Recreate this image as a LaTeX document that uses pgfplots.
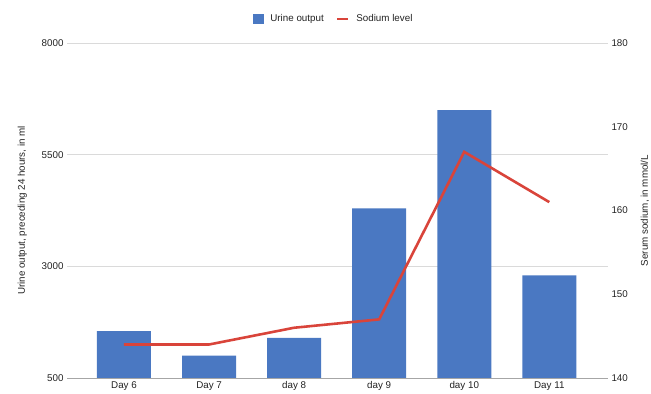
\documentclass[border=0pt]{standalone}
\usepackage{fontspec}
\setmainfont{Liberation Sans}
\usepackage{pgfplots}
\pgfplotsset{compat=1.18}
\definecolor{barblue}{HTML}{4A78C2}
\definecolor{linered}{HTML}{D9443A}
\definecolor{gridgray}{HTML}{DADADA}
\definecolor{txtgray}{HTML}{222222}
\begin{document}
\begin{tikzpicture}
\useasboundingbox (0,0) rectangle (651bp,394bp);
\pgfplotsset{
  common/.style={
    at={(67bp,16bp)}, anchor=south west,
    scale only axis, width=541bp, height=335bp,
    xmin=-0.67, xmax=5.69,
    major tick length=0pt,
    tick label style={font=\fontsize{9.8bp}{12bp}\selectfont, text=txtgray},
    label style={font=\fontsize{9.8bp}{12bp}\selectfont, text=txtgray},
    /pgf/number format/assume math mode=true,
    scaled y ticks=false,
    yticklabel style={/pgf/number format/1000 sep={}},
  }
}
\begin{axis}[
  common,
  ymin=500, ymax=8000,
  ytick={500,3000,5500,8000},
  xtick={0,...,5},
  xticklabels={Day 6,Day 7,day 8,day 9,day 10,Day 11},
  ymajorgrids, grid style={gridgray, line width=0.6pt},
  axis x line*=bottom, axis y line*=left,
  x axis line style={draw=gray!70, line width=0.8pt, -},
  y axis line style={draw=none},
  ylabel={Urine output, preceding 24 hours, in ml},
  ylabel style={yshift=8bp},
]
\addplot[ybar, bar width=54bp, fill=barblue, draw=none, bar shift=0pt] coordinates {
  (0,1550) (1,1000) (2,1400) (3,4300) (4,6500) (5,2800)
};
\end{axis}
\begin{axis}[
  common,
  ymin=140, ymax=180,
  ytick={140,150,...,180},
  axis y line*=right, axis x line=none,
  y axis line style={draw=none},
  ylabel={Serum sodium, in mmol/L},
  ylabel style={yshift=-6bp},
  legend style={at={(0.493,1.072)}, anchor=center, draw=none, fill=none,
    legend columns=2, font=\fontsize{9.8bp}{12bp}\selectfont, text=txtgray,
    /tikz/every even column/.append style={column sep=10bp},
    /tikz/every odd column/.append style={column sep=5bp}},
  legend cell align=left,
]
\addlegendimage{legend image code/.code={\fill[barblue] (0bp,-4.5bp) rectangle (10bp,4.5bp);}}
\addlegendentry{Urine output}
\addplot[linered, line width=2.6pt, sharp plot, mark=none,
  legend image code/.code={\draw[linered, line width=2.6pt] (0bp,0bp) -- (11bp,0bp);}] coordinates {
  (0,144) (1,144) (2,146) (3,147) (4,167) (5,161)
};
\addlegendentry{Sodium level}
\end{axis}
\end{tikzpicture}
\end{document}
